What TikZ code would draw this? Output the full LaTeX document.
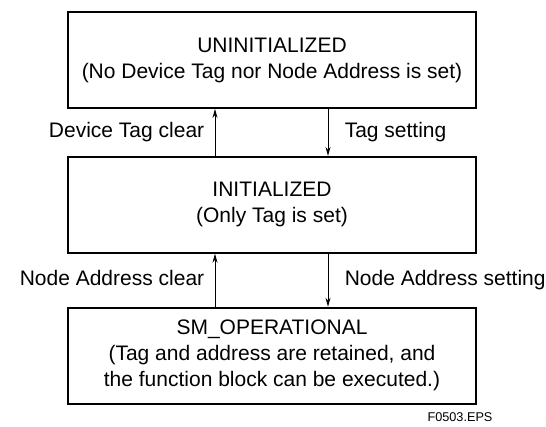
\documentclass[tikz,border=0pt]{standalone}
\usepackage{fontspec}
\setmainfont{Liberation Sans}
\usetikzlibrary{arrows.meta, positioning}

\tikzset{
  state/.style={draw, line width=1.8pt, minimum width=408pt, minimum height=96pt,
    align=center, font=\fontsize{21}{26}\selectfont},
  flow/.style={line width=0.9pt, -{Stealth[length=9pt,width=5pt]}},
  trans/.style={font=\fontsize{21}{26}\selectfont, text height=15pt, text depth=4pt}
}

\begin{document}
\begin{tikzpicture}[x=1pt, y=-1pt]
      % page frame
      \useasboundingbox (0,0) rectangle (546,426);
      % the three states, stacked
      \node[state] (uninit) at (272,60) {UNINITIALIZED\\(No Device Tag nor Node Address is set)};
      \node[state, below=47pt of uninit] (init) {INITIALIZED\\(Only Tag is set)};
      \node[state, below=53pt of init] (oper) {SM\_OPERATIONAL\\(Tag and address are retained, and\\the function block can be executed.)};
      % transitions, left column goes up, right column goes down
      \coordinate (up) at (215,0);
      \coordinate (down) at (328,0);
      \draw[flow] (init.north -| up) -- (uninit.south -| up)
        node[trans, midway, left=7pt] {Device Tag clear};
      \draw[flow] (uninit.south -| down) -- (init.north -| down)
        node[trans, midway, right=13pt] {Tag setting};
      \draw[flow] (oper.north -| up) -- (init.south -| up)
        node[trans, midway, left=7pt] {Node Address clear};
      \draw[flow] (init.south -| down) -- (oper.north -| down)
        node[trans, midway, right=13pt] {Node Address setting};
      % figure number
      \node[anchor=east, font=\fontsize{12.7}{15}\selectfont] (fig) at (496,417) {F0503.EPS};
\end{tikzpicture}
\end{document}
